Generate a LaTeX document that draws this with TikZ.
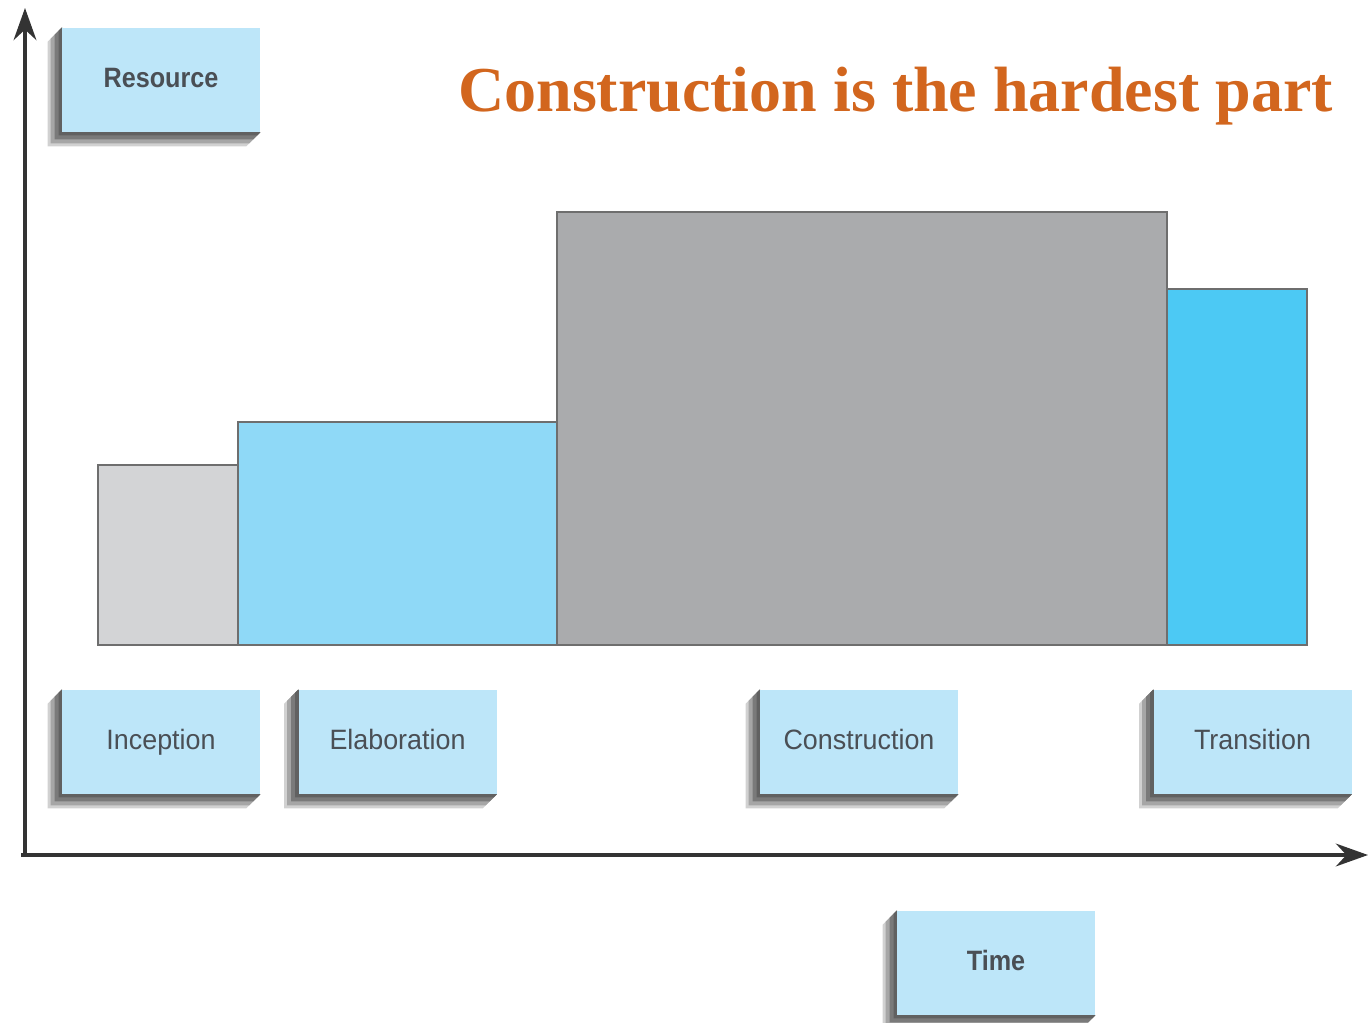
\documentclass[tikz,border=0pt]{standalone}
\usepackage{fontspec}
\setmainfont{Liberation Serif}
\newfontfamily\boxfont[FakeStretch=0.96]{Liberation Sans}
\newfontfamily\boxfontbold[FakeStretch=0.9]{Liberation Sans Bold}
\usetikzlibrary{arrows.meta,backgrounds}
\definecolor{boxblue}{HTML}{BDE6F9}
\definecolor{boxtext}{HTML}{4A4F55}
\definecolor{incgray}{HTML}{D3D4D6}
\definecolor{elabblue}{HTML}{8FD9F7}
\definecolor{consgray}{HTML}{AAABAD}
\definecolor{transblue}{HTML}{4CC9F4}
\definecolor{barline}{HTML}{6E6E6E}
\definecolor{axiscol}{HTML}{333333}
\definecolor{titlecol}{HTML}{D2661E}
\tikzset{
  phasebox/.style={fill=boxblue, draw=none, minimum width=148.5pt, minimum height=78pt,
    inner sep=0pt, text=boxtext, text height=15pt, text depth=4pt,
    font=\boxfont\fontsize{21pt}{24pt}\selectfont},
  labelbold/.style={phasebox, font=\boxfontbold\fontsize{21pt}{24pt}\selectfont},
  bar/.style={draw=barline, line width=1.6pt},
  axis/.style={draw=axiscol, line width=3pt, -{Stealth[length=24pt,width=17pt]}},
}
\newcommand\boxshadow[1]{%
  \begin{pgfonlayer}{background}
    \fill[black!18] (#1.north west) -- ([shift={(-14,14)}]#1.north west) -- ([shift={(-14,14)}]#1.south west) -- ([shift={(-14,14)}]#1.south east) -- (#1.south east) -- cycle;
    \fill[black!35] (#1.north west) -- ([shift={(-11,11)}]#1.north west) -- ([shift={(-11,11)}]#1.south west) -- ([shift={(-11,11)}]#1.south east) -- (#1.south east) -- cycle;
    \fill[black!52] (#1.north west) -- ([shift={(-7,7)}]#1.north west) -- ([shift={(-7,7)}]#1.south west) -- ([shift={(-7,7)}]#1.south east) -- (#1.south east) -- cycle;
    \fill[black!62] (#1.north west) -- ([shift={(-3,3)}]#1.north west) -- ([shift={(-3,3)}]#1.south west) -- ([shift={(-3,3)}]#1.south east) -- (#1.south east) -- cycle;
  \end{pgfonlayer}}
\begin{document}
\begin{tikzpicture}[x=0.75pt,y=-0.75pt]
\useasboundingbox (0,0) rectangle (1368,1023);
% bars
\draw[bar, fill=incgray] (98,645) rectangle (238,465);
\draw[bar, fill=elabblue] (238,645) rectangle (557,422);
\draw[bar, fill=consgray] (557,645) rectangle (1167,212);
\draw[bar, fill=transblue] (1167,645) rectangle (1307,289);
% axes
\coordinate (origin) at (25,855);
\coordinate (ytip) at (25,8);
\coordinate (xtip) at (1368,855);
\draw[axis] ([xshift=-3pt]origin) -- (xtip);
\draw[axis] ([yshift=-1.5pt]origin) -- (ytip);
% labels
\node[labelbold] (resource) at (161,80) {Resource};
\node[phasebox] (inception) at (161,742) {Inception};
\node[phasebox] (elaboration) at (397.5,742) {Elaboration};
\node[phasebox] (construction) at (859,742) {Construction};
\node[phasebox] (transition) at (1252.5,742) {Transition};
\node[labelbold] (time) at (996,963) {Time};
\boxshadow{resource}
\boxshadow{inception}
\boxshadow{elaboration}
\boxshadow{construction}
\boxshadow{transition}
\boxshadow{time}
% title
\node[anchor=base west, inner sep=0pt, text=titlecol, font=\fontsize{48pt}{56pt}\selectfont\bfseries] (title) at (458,112) {Construction is the hardest part};
\end{tikzpicture}
\end{document}
